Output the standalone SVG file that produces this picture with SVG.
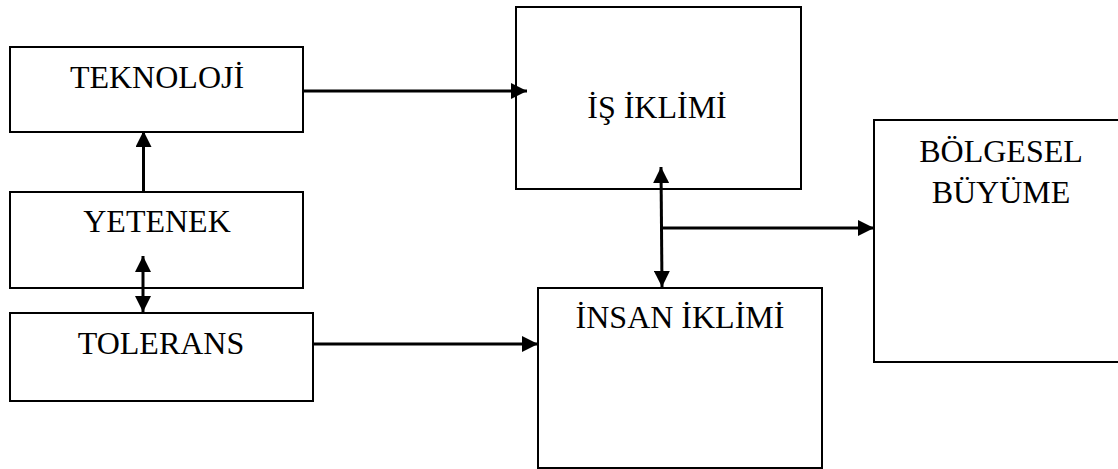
<svg xmlns="http://www.w3.org/2000/svg" width="1118" height="469" viewBox="0 0 1118 469">
<style>
.box{fill:#fff;stroke:#000;stroke-width:2}
.lbl{font-family:"Liberation Serif","Times New Roman",serif;font-size:32px;fill:#000;text-anchor:middle}
.con{stroke:#000;stroke-width:3;fill:none}
</style>
<defs>
<marker id="ah" markerUnits="userSpaceOnUse" markerWidth="16" markerHeight="16" viewBox="0 0 16 16" refX="16" refY="8" orient="auto-start-reverse">
<path d="M0,0 L16,8 L0,16 z" fill="#000"/>
</marker>
</defs>
<rect width="1118" height="469" fill="#fff"/>
<g id="teknoloji"><rect class="box" x="10" y="47" width="293" height="85"/><text class="lbl" x="157" y="88">TEKNOLOJİ</text></g>
<g id="yetenek"><rect class="box" x="10" y="192" width="293" height="96"/><text class="lbl" x="157" y="232">YETENEK</text></g>
<g id="tolerans"><rect class="box" x="10" y="313" width="303" height="88"/><text class="lbl" x="161" y="354">TOLERANS</text></g>
<g id="is-iklimi"><rect class="box" x="516" y="7" width="285" height="182"/><text class="lbl" x="657" y="118">İŞ İKLİMİ</text></g>
<g id="insan-iklimi"><rect class="box" x="538" y="288" width="284" height="180"/><text class="lbl" x="680" y="328">İNSAN İKLİMİ</text></g>
<g id="bolgesel-buyume"><rect class="box" x="874" y="120" width="260" height="242"/><text class="lbl" x="1001" y="162">BÖLGESEL</text><text class="lbl" x="1001" y="203">BÜYÜME</text></g>
<g id="connectors">
<line class="con" x1="303" y1="91" x2="527" y2="91" marker-end="url(#ah)"/>
<line class="con" x1="143.5" y1="192" x2="143.5" y2="131" marker-end="url(#ah)"/>
<line class="con" x1="143" y1="256" x2="143" y2="312" marker-start="url(#ah)" marker-end="url(#ah)"/>
<line class="con" x1="313" y1="344" x2="538" y2="344" marker-end="url(#ah)"/>
<line class="con" x1="661" y1="167" x2="662" y2="287" marker-start="url(#ah)" marker-end="url(#ah)"/>
<line class="con" x1="662" y1="228" x2="874" y2="228" marker-end="url(#ah)"/>
</g>
</svg>
